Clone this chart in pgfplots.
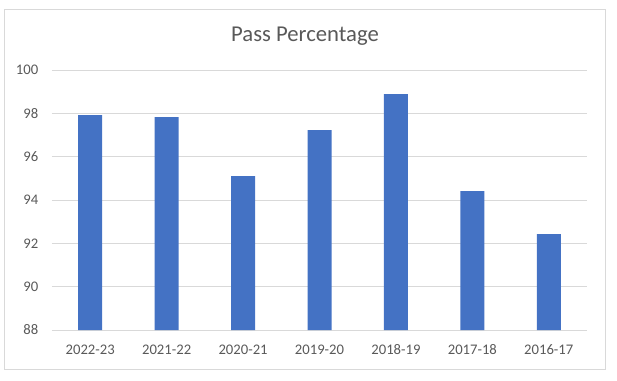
\documentclass[border=0pt]{standalone}
\usepackage{pgfplots}
\pgfplotsset{compat=1.18}
\usepackage{fontspec}
\setmainfont{Carlito}
\definecolor{barblue}{HTML}{4472C4}
\definecolor{txtgray}{HTML}{595959}
\definecolor{gridgray}{HTML}{D9D9D9}
\begin{document}
\begin{tikzpicture}
\path[use as bounding box] (-39pt,-37.5pt) rectangle (423.75pt,247.5pt);
\draw[gridgray, line width=0.75pt] (-35.25pt,-29.25pt) rectangle (414.75pt,240.75pt);
\node[text=txtgray, font=\fontsize{17}{20}\selectfont] at (189.75pt,220.5pt) {Pass Percentage};
\begin{axis}[
  at={(0,0)}, anchor=south west,
  scale only axis,
  width=401.25pt, height=195pt,
  xmin=-0.5, xmax=6.5,
  ymin=88, ymax=100,
  ytick={88,90,...,100},
  xtick={0,...,6},
  xticklabels={2022-23,2021-22,2020-21,2019-20,2018-19,2017-18,2016-17},
  /pgf/number format/assume math mode=true,
  major tick length=0pt,
  axis line style={draw=none},
  ymajorgrids,
  grid style={gridgray, line width=0.75pt},
  tick label style={text=txtgray, font=\fontsize{11}{13}\selectfont},
  yticklabel style={xshift=-6.8pt},
  xticklabel style={yshift=-7.5pt},
  ybar, bar width=18pt,
]
\addplot[fill=barblue, draw=none] coordinates {
  (0,97.92) (1,97.83) (2,95.10) (3,97.23) (4,98.89) (5,94.41) (6,92.43)
};
\end{axis}
\end{tikzpicture}
\end{document}
